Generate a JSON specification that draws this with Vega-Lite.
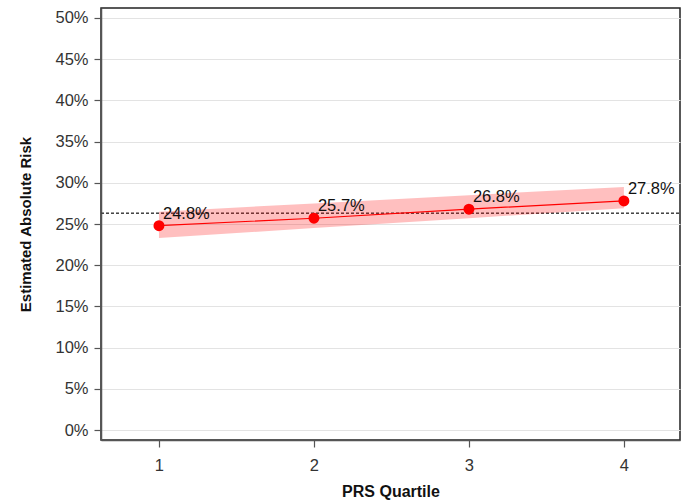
{
  "$schema": "https://vega.github.io/schema/vega-lite/v6.json",
  "autosize": {"type": "none"},
  "width": 579,
  "height": 432,
  "padding": {"left": 101, "top": 8, "right": 6, "bottom": 62},
  "background": "white",
  "config": {
    "font": "Liberation Sans",
    "view": {"stroke": "#222222", "strokeWidth": 1.5},
    "axis": {
      "domainColor": "#555555",
      "domainWidth": 1.5,
      "tickColor": "#555555",
      "tickWidth": 1.2,
      "tickSize": 7,
      "labelFont": "Liberation Sans",
      "labelFontSize": 16.5,
      "labelColor": "#333333",
      "titleFont": "Liberation Sans",
      "titleFontSize": 15.5,
      "titleFontWeight": "bold",
      "titleColor": "#111111",
      "gridColor": "#e3e3e3",
      "gridWidth": 1.2
    }
  },
  "data": {
    "values": [
      {"quartile": 1, "risk": 0.248, "lower": 0.233, "upper": 0.265, "label": "24.8%", "ref": 0.263},
      {"quartile": 2, "risk": 0.257, "lower": 0.245, "upper": 0.275, "label": "25.7%", "ref": 0.263},
      {"quartile": 3, "risk": 0.268, "lower": 0.257, "upper": 0.285, "label": "26.8%", "ref": 0.263},
      {"quartile": 4, "risk": 0.278, "lower": 0.269, "upper": 0.295, "label": "27.8%", "ref": 0.263}
    ]
  },
  "encoding": {
    "x": {
      "field": "quartile",
      "type": "quantitative",
      "scale": {"domain": [0.626, 4.362], "nice": false, "zero": false},
      "axis": {"values": [1, 2, 3, 4], "grid": false, "title": "PRS Quartile", "labelPadding": 10, "titlePadding": 10, "titleFontSize": 16, "format": "d"}
    }
  },
  "layer": [
    {
      "mark": {"type": "rule", "color": "#444444", "strokeDash": [3, 2], "strokeWidth": 0.8},
      "encoding": {
        "y": {
          "aggregate": "mean",
          "field": "ref",
          "type": "quantitative"
        },
        "x": {"datum": 0.626, "type": "quantitative"},
        "x2": {"datum": 4.362}
      }
    },
    {
      "mark": {"type": "area", "color": "red", "opacity": 0.25},
      "encoding": {
        "y": {
          "field": "lower",
          "type": "quantitative",
          "scale": {"domain": [-0.012, 0.512], "nice": false},
          "axis": {
            "values": [0, 0.05, 0.1, 0.15, 0.2, 0.25, 0.3, 0.35, 0.4, 0.45, 0.5],
            "format": ".0%",
            "title": "Estimated Absolute Risk",
            "titlePadding": 21,
            "titleFontSize": 15,
            "labelPadding": 6
          }
        },
        "y2": {"field": "upper"}
      }
    },
    {
      "mark": {"type": "line", "color": "red", "strokeWidth": 1.2},
      "encoding": {"y": {"field": "risk", "type": "quantitative"}}
    },
    {
      "mark": {"type": "point", "filled": true, "color": "red", "opacity": 1, "size": 120},
      "encoding": {"y": {"field": "risk", "type": "quantitative"}}
    },
    {
      "mark": {"type": "text", "align": "left", "baseline": "middle", "dx": 4, "dy": -12, "fontSize": 16.5, "color": "#111111"},
      "encoding": {
        "y": {"field": "risk", "type": "quantitative"},
        "text": {"field": "label"}
      }
    }
  ]
}
